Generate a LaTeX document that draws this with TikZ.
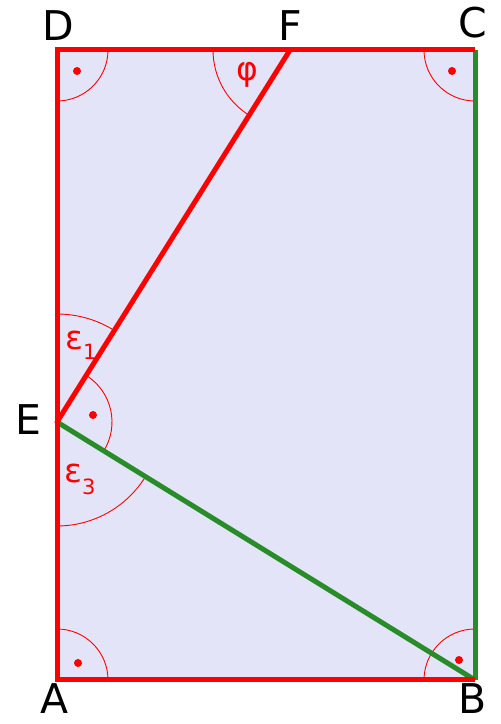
\documentclass[tikz,border=0pt]{standalone}
\usepackage{fontspec}
\setmainfont{DejaVu Sans}
\usetikzlibrary{angles}
\definecolor{fillc}{RGB}{228,228,248}
\definecolor{greenc}{RGB}{40,140,40}
\begin{document}
\begin{tikzpicture}[x=1pt,y=1pt,
  edge/.style={line width=5pt},
  ang/.style={draw=red, line width=0.9pt},
  lbl/.style={font=\fontsize{41}{41}\selectfont, anchor=base, inner sep=0pt},
  glbl/.style={text=red, font=\fontsize{33}{33}\selectfont, inner sep=0pt},
  rdot/.style={circle, fill=red, inner sep=0pt, minimum size=8pt}]
\useasboundingbox (0,0) rectangle (501,724);
\coordinate (A) at (57,44);
\coordinate (B) at (475,44);
\coordinate (C) at (475,674);
\coordinate (D) at (57,674);
\coordinate (E) at (57,302);
\coordinate (F) at (290,674);
\fill[fillc] (A) rectangle (C);
% angle arcs
\pic[ang, angle radius=51pt] {angle=B--A--D};
\pic[ang, angle radius=51pt] {angle=C--B--A};
\pic[ang, angle radius=51pt] {angle=D--C--B};
\pic[ang, angle radius=51pt] {angle=A--D--C};
\pic[ang, angle radius=77pt] {angle=D--F--E};
\pic[ang, angle radius=108pt] {angle=F--E--D};
\pic[ang, angle radius=55pt] {angle=B--E--F};
\pic[ang, angle radius=104pt] {angle=A--E--B};
% green edges
\draw[edge, greenc] (B) -- (C);
\draw[edge, greenc] (E) -- (B);
% red edges
\draw[edge, red] (B) -- (A) -- (D) -- (C);
\draw[edge, red, line cap=round] (E) -- (F);
% right-angle dots
\node[rdot] (dA) at (78,61) {};
\node[rdot] (dB) at (459,64) {};
\node[rdot] (dC) at (452,653) {};
\node[rdot] (dD) at (77,653) {};
\node[rdot] (dE) at (93,309) {};
% labels
\node[lbl] (lD) at (58,683) {D};
\node[lbl] (lF) at (290,683) {F};
\node[lbl] (lC) at (473,686) {C};
\node[lbl] (lE) at (28,289) {E};
\node[lbl] (lA) at (55,10) {A};
\node[lbl] (lB) at (473,10) {B};
% greek labels
\node[glbl] (phi) at (247,649) {φ};
\node[glbl, anchor=base west] (eps1) at (65,374) {ε\raisebox{-10pt}{\fontsize{21}{21}\selectfont 1}};
\node[glbl, anchor=base west] (eps3) at (64,241) {ε\raisebox{-12pt}{\fontsize{21}{21}\selectfont 3}};
\end{tikzpicture}
\end{document}
